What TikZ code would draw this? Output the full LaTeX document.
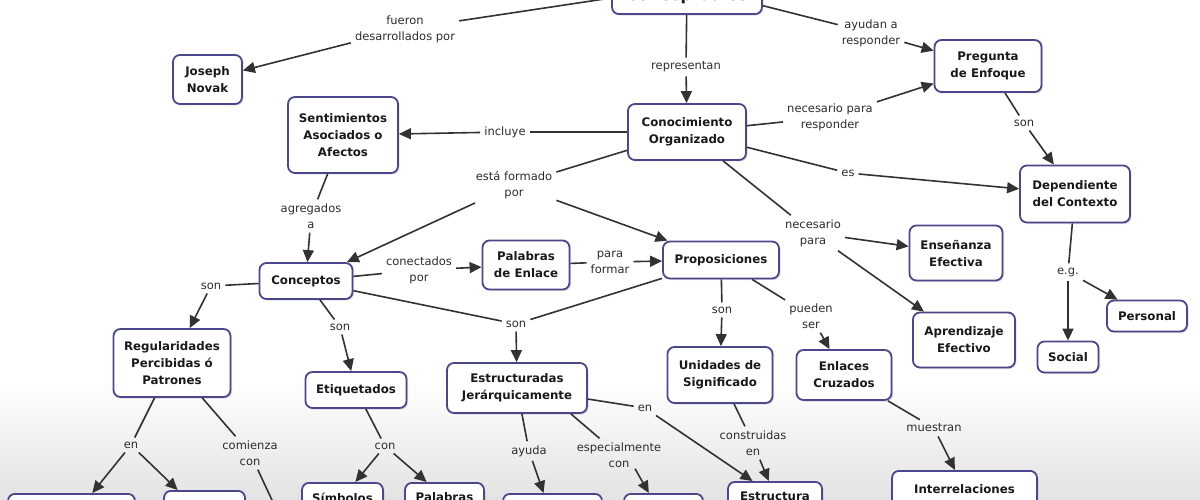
\documentclass[tikz,border=0pt]{standalone}
\usepackage{fontspec}
\setmainfont{DejaVu Sans}
\usetikzlibrary{arrows.meta,shadows,calc}
\definecolor{boxc}{RGB}{74,72,138}
\definecolor{linec}{RGB}{50,50,50}
\definecolor{txtc}{RGB}{45,45,45}
\begin{document}
\begin{tikzpicture}[x=1pt,y=-1pt,
  box/.style={draw=boxc, line width=1.8pt, rounded corners=7pt, fill=white, align=center,
    font=\bfseries\fontsize{11.8}{17}\selectfont, text=black!90, inner sep=0pt,
    drop shadow={opacity=0.25, shadow xshift=1.5pt, shadow yshift=-1.5pt}},
  lbl/.style={align=center, font=\fontsize{11.5}{16}\selectfont, text=txtc, inner sep=4pt},
  conn/.style={draw=linec, line width=1.6pt},
  arr/.style={conn, -{Triangle[length=12pt,width=11pt]}}]
\useasboundingbox (0,0) rectangle (1200,500);
\clip (0,0) rectangle (1200,500);
\fill[white] (0,0) rectangle (1200,500);
\shade[top color=white, bottom color=black!11] (0,380) rectangle (1200,500);

% concept nodes
\node[box, minimum width=150pt, minimum height=55pt, anchor=south,
  font=\bfseries\fontsize{16}{20}\selectfont] (mapas) at (687,15) {Mapas\\Conceptuales};
\node[box, minimum width=69pt, minimum height=49pt] (novak) at (207.5,79.5) {Joseph\\Novak};
\node[box, minimum width=110pt, minimum height=76pt] (senti) at (343,135) {Sentimientos\\Asociados o\\Afectos};
\node[box, minimum width=118pt, minimum height=56pt] (conoc) at (687,132) {Conocimiento\\Organizado};
\node[box, minimum width=107pt, minimum height=52pt] (preg) at (988,66) {Pregunta\\de Enfoque};
\node[box, minimum width=110pt, minimum height=57pt] (depen) at (1075,194) {Dependiente\\del Contexto};
\node[box, minimum width=93pt, minimum height=55pt] (ensen) at (956,253) {Enseñanza\\Efectiva};
\node[box, minimum width=102pt, minimum height=55pt] (apren) at (964,340) {Aprendizaje\\Efectivo};
\node[box, minimum width=80pt, minimum height=31pt] (perso) at (1147,316) {Personal};
\node[box, minimum width=61pt, minimum height=31pt] (socia) at (1068,357) {Social};
\node[box, minimum width=93pt, minimum height=36pt] (conce) at (306,281) {Conceptos};
\node[box, minimum width=117pt, minimum height=68pt] (regul) at (172,363) {Regularidades\\Percibidas ó\\Patrones};
\node[box, minimum width=101pt, minimum height=36pt] (etiqu) at (356,390) {Etiquetados};
\node[box, minimum width=87pt, minimum height=49pt] (palen) at (526,265) {Palabras\\de Enlace};
\node[box, minimum width=116pt, minimum height=37pt] (propo) at (721,260) {Proposiciones};
\node[box, minimum width=105pt, minimum height=56pt] (unida) at (720,375) {Unidades de\\Significado};
\node[box, minimum width=95pt, minimum height=50pt] (enlac) at (844,375) {Enlaces\\Cruzados};
\node[box, minimum width=140pt, minimum height=50pt] (estjq) at (517,388) {Estructuradas\\Jerárquicamente};
% bottom (cut) nodes
\node[box, anchor=north, minimum width=127pt, minimum height=50pt] (bota) at (71.5,493) {};
\node[box, anchor=north, minimum width=81pt, minimum height=50pt] (botb) at (204.5,490) {};
\node[box, anchor=north, minimum width=81pt, inner ysep=10pt] (simbo) at (342.5,482) {Símbolos};
\node[box, anchor=north, minimum width=79pt, inner ysep=10pt] (palab) at (444.5,482) {Palabras};
\node[box, anchor=north, minimum width=99pt, minimum height=50pt] (botc) at (552.5,493) {};
\node[box, anchor=north, minimum width=79pt, minimum height=50pt] (botd) at (663.5,493) {};
\node[box, anchor=north, minimum width=94pt, inner ysep=10pt] (estru) at (775,481) {Estructura};
\node[box, anchor=north, minimum width=145pt, inner ysep=14pt] (inter) at (964.5,470) {Interrelaciones};
\coordinate (offc) at (300,560);

% linking phrases
\node[lbl] (l1) at (405,29) {fueron\\desarrollados por};
\node[lbl] (l2) at (686,67) {representan};
\node[lbl] (l3) at (871,33) {ayudan a\\responder};
\node[lbl] (l4) at (830,117) {necesario para\\responder};
\node[lbl] (l5) at (1024,123) {son};
\node[lbl] (l6) at (848,173) {es};
\node[lbl] (l7) at (505,132) {incluye};
\node[lbl] (l8) at (514,185) {está formado\\por};
\node[lbl] (l9) at (813,233) {necesario\\para};
\node[lbl] (l10) at (311,216) {agregados\\a};
\node[lbl] (l11) at (419,270) {conectados\\por};
\node[lbl] (l12) at (610,262) {para\\formar};
\node[lbl] (l13) at (516,324) {son};
\node[lbl] (l14) at (211,286) {son};
\node[lbl] (l15) at (340,327) {son};
\node[lbl] (l16) at (722,310) {son};
\node[lbl] (l17) at (811,316) {pueden\\ser};
\node[lbl] (l18) at (131,445) {en};
\node[lbl] (l19) at (250,453) {comienza\\con};
\node[lbl] (l20) at (385,446) {con};
\node[lbl] (l21) at (529,451) {ayuda};
\node[lbl] (l22) at (619,455) {especialmente\\con};
\node[lbl] (l23) at (645,408) {en};
\node[lbl] (l24) at (753,443) {construidas\\en};
\node[lbl] (l25) at (934,428) {muestran};
\node[lbl] (l26) at (1068,272) {e.g.};

% connectors
\draw[conn] (mapas) -- (l1); \draw[arr] (l1) -- (novak);
\draw[conn] (mapas) -- (l2); \draw[arr] (l2) -- (conoc);
\draw[conn] (mapas) -- (l3); \draw[arr] (l3) -- (preg);
\draw[conn] (conoc) -- (l4); \draw[arr] (l4) -- (preg);
\draw[conn] (preg) -- (l5); \draw[arr] (l5) -- (depen);
\draw[conn] (conoc) -- (l6); \draw[arr] (l6) -- (depen);
\draw[conn] (conoc) -- (l7); \draw[arr] (l7) -- (senti);
\draw[conn] (conoc) -- (l8); \draw[arr] (l8) -- (conce); \draw[arr] (l8) -- (propo);
\draw[conn] (conoc) -- (l9); \draw[arr] (l9) -- (ensen); \draw[arr] (l9) -- (apren);
\draw[conn] (senti) -- (l10); \draw[arr] (l10) -- (conce);
\draw[conn] (conce) -- (l11); \draw[arr] (l11) -- (palen);
\draw[conn] (palen) -- (l12); \draw[arr] (l12) -- (propo);
\draw[conn] (conce) -- (l13); \draw[conn] (propo) -- (l13); \draw[arr] (l13) -- (estjq);
\draw[conn] (conce) -- (l14); \draw[arr] (l14) -- (regul);
\draw[conn] (conce) -- (l15); \draw[arr] (l15) -- (etiqu);
\draw[conn] (propo) -- (l16); \draw[arr] (l16) -- (unida);
\draw[conn] (propo) -- (l17); \draw[arr] (l17) -- (enlac);
\draw[conn] (regul) -- (l18); \draw[arr] (l18) -- (bota); \draw[arr] (l18) -- (botb);
\draw[conn] (regul) -- (l19); \draw[arr] (l19) -- (offc);
\draw[conn] (etiqu) -- (l20); \draw[arr] (l20) -- (simbo); \draw[arr] (l20) -- (palab);
\draw[conn] (estjq) -- (l21); \draw[arr] (l21) -- (botc);
\draw[conn] ([xshift=-17pt]estjq.south east) -- (l22); \draw[arr] ($(l22.south)+(16pt,3pt)$) -- (botd);
\draw[conn] (estjq) -- (l23); \draw[arr] (l23) -- (estru);
\draw[conn] (unida) -- (l24); \draw[arr] (l24) -- (estru);
\draw[conn] (enlac) -- (l25); \draw[arr] (l25) -- (inter);
\draw[conn] (depen) -- (l26); \draw[arr] (l26) -- (socia); \draw[arr] (l26) -- (perso);
\end{tikzpicture}
\end{document}
